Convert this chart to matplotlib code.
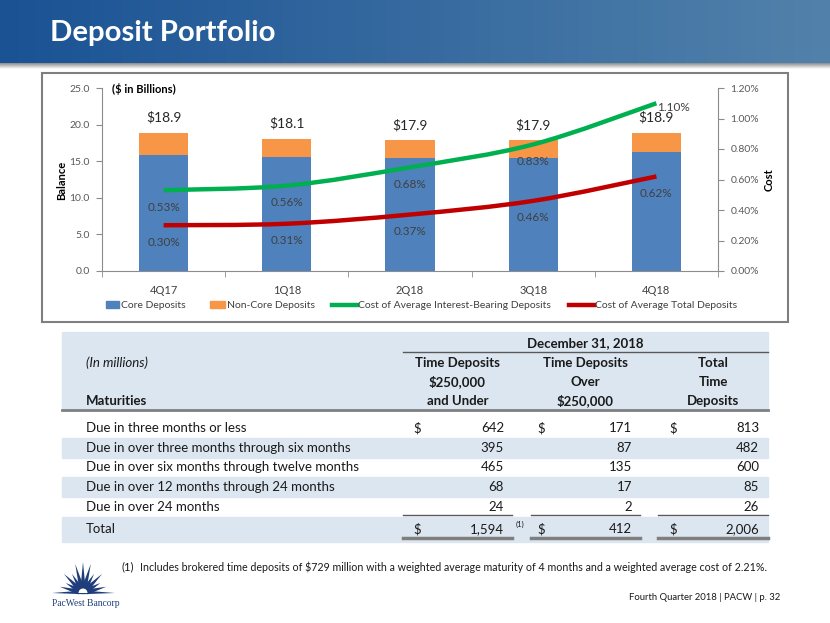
import numpy as np
import matplotlib
matplotlib.use("Agg")
import matplotlib.pyplot as plt
from matplotlib.patches import Rectangle, PathPatch, Polygon, Wedge
from matplotlib.path import Path
from matplotlib.lines import Line2D
from matplotlib.ticker import FuncFormatter, FixedLocator

# ---------------- data ----------------
quarters = ["4Q17", "1Q18", "2Q18", "3Q18", "4Q18"]
core_deposits = [15.9, 15.6, 15.5, 15.5, 16.3]
noncore_deposits = [3.0, 2.5, 2.4, 2.4, 2.6]
total_labels = ["$18.9", "$18.1", "$17.9", "$17.9", "$18.9"]
cost_interest_bearing = [0.53, 0.56, 0.68, 0.83, 1.10]
cost_total = [0.30, 0.31, 0.37, 0.46, 0.62]

maturity_rows = ["Due in three months or less",
                 "Due in over three months through six months",
                 "Due in over six months through twelve months",
                 "Due in over 12 months through 24 months",
                 "Due in over 24 months"]
td_under_250k = [642, 395, 465, 68, 24]
td_over_250k = [171, 87, 135, 17, 2]
td_total = [813, 482, 600, 85, 26]
total_under = 1594
total_over = 412
total_all = 2006

# ---------------- layout helpers ----------------
W, H = 830, 623
FONT = "Lato"
plt.rcParams["font.family"] = [FONT, "DejaVu Sans"]


def fx(x):
    return x / W


def fy(y):
    return 1 - y / H


fig = plt.figure(figsize=(8.3, 6.23), dpi=100)
fig.patch.set_facecolor("white")
renderer = fig.canvas.get_renderer()


def width_of(tobj):
    return tobj.get_window_extent(renderer).width


def fit(tobj, width_px):
    tobj.set_fontsize(tobj.get_fontsize() * width_px / width_of(tobj))
    return tobj.get_fontsize()


# ---------------- header band ----------------
c1 = np.array([0x1a, 0x52, 0x94]) / 255
c2 = np.array([0x52, 0x82, 0xab]) / 255
t = np.linspace(0, 1, 400)
grad = (c1[None, :] * (1 - t[:, None]) + c2[None, :] * t[:, None])[None, :, :]
axh = fig.add_axes([0, fy(63), 1, 63 / H])
axh.imshow(grad, extent=[0, 1, 0, 1], aspect="auto")
axh.set_axis_off()
sh = np.linspace(0.55, 1.0, 30)
shadow = np.dstack([np.repeat(sh[:, None], 10, axis=1)] * 3)
axs = fig.add_axes([0, fy(69), 1, 6 / H])
axs.imshow(shadow, extent=[0, 1, 0, 1], aspect="auto")
axs.set_axis_off()

title = fig.text(fx(50), fy(33), "Deposit Portfolio", color="white",
                 fontweight="bold", fontsize=20, va="center", ha="left")
fit(title, 226)

# ---------------- chart box ----------------
fig.patches.append(Rectangle((fx(42), fy(322)), fx(788) - fx(42), (322 - 73) / H,
                             transform=fig.transFigure, fill=False,
                             ec="#7f7f7f", lw=1.5))

blue = "#4F81BD"
orange = "#F79646"
green = "#00B050"
red = "#C00000"
axis_gray = "#8c8c8c"
tick_txt = "#595959"

ax = fig.add_axes([fx(102), fy(271), 616 / W, 183 / H])
x = np.arange(len(quarters))
ax.bar(x, core_deposits, 0.4, color=blue, zorder=2)
ax.bar(x, noncore_deposits, 0.4, bottom=core_deposits, color=orange, zorder=2)
ax.set_xlim(-0.5, len(quarters) - 0.5)
ax.set_ylim(0, 25)
ax.set_yticks(np.arange(0, 25.1, 5))
ax.yaxis.set_major_formatter(FuncFormatter(lambda v, p: f"{v:.1f}"))
ax.set_xticks(x)
ax.set_xticklabels(quarters)
ax.xaxis.set_minor_locator(FixedLocator(np.arange(-0.5, len(quarters), 1.0)))
ax.tick_params(axis="x", which="major", length=0, labelsize=8, labelcolor="#404040", pad=10)
ax.tick_params(axis="x", which="minor", length=4, color=axis_gray, direction="out")
ax.tick_params(axis="y", length=4, color=axis_gray, labelsize=7.5, labelcolor=tick_txt, pad=5)
for s in ["top", "right"]:
    ax.spines[s].set_visible(False)
for s in ["left", "bottom"]:
    ax.spines[s].set_color(axis_gray)
ax.set_facecolor("none")

for i, (c, n, lbl) in enumerate(zip(core_deposits, noncore_deposits, total_labels)):
    ax.annotate(lbl, (i, c + n), xytext=(0, 15), textcoords="offset pixels",
                ha="center", va="center", fontsize=10, color="#262626")

ax2 = ax.twinx()
ax2.set_ylim(0, 1.2)
ax2.set_yticks(np.arange(0, 1.21, 0.2))
ax2.yaxis.set_major_formatter(FuncFormatter(lambda v, p: f"{v:.2f}%"))
ax2.tick_params(axis="y", length=4, color=axis_gray, labelsize=7.5, labelcolor=tick_txt, pad=5)
for s in ["top", "left", "bottom"]:
    ax2.spines[s].set_visible(False)
ax2.spines["right"].set_color(axis_gray)


def smooth_path(xs, ys):
    pts = np.column_stack([xs, ys]).astype(float)
    P = np.vstack([pts[0], pts, pts[-1]])
    verts = [pts[0]]
    codes = [Path.MOVETO]
    for i in range(1, len(P) - 2):
        p0, p1, p2, p3 = P[i - 1], P[i], P[i + 1], P[i + 2]
        verts += [p1 + (p2 - p0) / 6, p2 - (p3 - p1) / 6, p2]
        codes += [Path.CURVE4] * 3
    return Path(verts, codes)


ax2.add_patch(PathPatch(smooth_path(x, cost_interest_bearing), fill=False,
                        ec=green, lw=3.2, capstyle="butt", zorder=3))
ax2.add_patch(PathPatch(smooth_path(x, cost_total), fill=False,
                        ec=red, lw=3.2, capstyle="butt", zorder=3))

lbl_color = "#404040"
pfs = 8.5
for i, v in enumerate(cost_interest_bearing):
    if i == len(cost_interest_bearing) - 1:
        ax2.annotate(f"{v:.2f}%", (i, v), xytext=(1, -4), textcoords="offset pixels",
                     ha="left", va="center", fontsize=pfs, color=lbl_color)
    else:
        ax2.annotate(f"{v:.2f}%", (i, v), xytext=(0, -17), textcoords="offset pixels",
                     ha="center", va="center", fontsize=pfs, color=lbl_color)
for i, v in enumerate(cost_total):
    ax2.annotate(f"{v:.2f}%", (i, v), xytext=(0, -17), textcoords="offset pixels",
                 ha="center", va="center", fontsize=pfs, color=lbl_color)

fig.text(fx(62), fy(180), "Balance", rotation=90, ha="center", va="center",
         fontsize=8, fontweight="bold", color="black")
fig.text(fx(769), fy(180), "Cost", rotation=90, ha="center", va="center",
         fontsize=8, fontweight="bold", color="black")
fig.text(fx(112), fy(89), "($ in Billions)", ha="left", va="center",
         fontsize=8, fontweight="bold", color="black")

# legend (manual)
ly = 305
leg_items = [("patch", blue, 106, 121, "Core Deposits"),
             ("patch", orange, 210, 227, "Non-Core Deposits"),
             ("line", green, 332, 358, "Cost of Average Interest-Bearing Deposits"),
             ("line", red, 569, 595, "Cost of Average Total Deposits")]
probe = fig.text(0, 0, leg_items[2][4], fontsize=8)
leg_fs = fit(probe, 194)
probe.remove()
for kind, col, x0, tx, label in leg_items:
    if kind == "patch":
        fig.patches.append(Rectangle((fx(x0), fy(ly + 3.5)), fx(tx - 2) - fx(x0), 7 / H,
                                     transform=fig.transFigure, color=col))
    else:
        fig.lines.append(Line2D([fx(x0), fx(tx - 1)], [fy(ly), fy(ly)],
                                transform=fig.transFigure, color=col, lw=3.2))
    fig.text(fx(tx), fy(ly), label, ha="left", va="center", fontsize=leg_fs, color="#404040")

# ---------------- table ----------------
shade = "#dce6f0"
tl, tr = 62, 768


def hrect(y0, y1, x0=tl, x1=tr):
    fig.patches.append(Rectangle((fx(x0), fy(y1)), fx(x1) - fx(x0), (y1 - y0) / H,
                                 transform=fig.transFigure, color=shade, zorder=0))


def hline(y, x0, x1, lw=1.0, color="#595959"):
    fig.lines.append(Line2D([fx(x0), fx(x1)], [fy(y), fy(y)], transform=fig.transFigure,
                            color=color, lw=lw))


probe = fig.text(0, 0, maturity_rows[2], fontsize=9)
tfs = fit(probe, 275)
probe.remove()

hrect(332, 410)
row_y = [428, 448, 467, 487, 507]
row_h = 19.6
for i, yy in enumerate(row_y):
    if i % 2 == 1:
        hrect(yy - row_h / 2, yy + row_h / 2)
total_y = 529
hrect(517, 542)

cols = [(403, 512), (531, 640), (658, 768)]
col_centers = [(a + b) / 2 for a, b in cols]
dollar_x = [413, 537, 669]
value_x = [504, 632, 759]

txt_col = "#1a1a1a"
fig.text(fx(585.5), fy(343), "December 31, 2018", ha="center", va="center",
         fontsize=tfs, fontweight="bold", color=txt_col)
hline(351.5, 403, 768, lw=1.0)
fig.text(fx(86), fy(363), "(In millions)", ha="left", va="center",
         fontsize=tfs, style="italic", color=txt_col)
fig.text(fx(86), fy(401), "Maturities", ha="left", va="center",
         fontsize=tfs, fontweight="bold", color=txt_col)
headers = [["Time Deposits", "$250,000", "and Under"],
           ["Time Deposits", "Over", "$250,000"],
           ["Total", "Time", "Deposits"]]
for cx, lines in zip(col_centers, headers):
    for yy, s in zip([363, 382, 401], lines):
        fig.text(fx(cx), fy(yy), s, ha="center", va="center",
                 fontsize=tfs, fontweight="bold", color=txt_col)
hline(410, tl, tr, lw=2.0, color="#7f7f7f")

for i, (lab, a, b, c) in enumerate(zip(maturity_rows, td_under_250k, td_over_250k, td_total)):
    yy = row_y[i]
    fig.text(fx(86), fy(yy), lab, ha="left", va="center", fontsize=tfs, color=txt_col)
    for vx, v in zip(value_x, [a, b, c]):
        fig.text(fx(vx), fy(yy), f"{v:,}", ha="right", va="center", fontsize=tfs, color=txt_col)
    if i == 0:
        for dx in dollar_x:
            fig.text(fx(dx), fy(yy), "$", ha="left", va="center", fontsize=tfs, color=txt_col)

for a, b in cols:
    hline(515, a, b, lw=1.0, color="#595959")
    hline(538, a, b, lw=2.5, color="#7f7f7f")

fig.text(fx(86), fy(total_y), "Total", ha="left", va="center", fontsize=tfs, color=txt_col)
for dx in dollar_x:
    fig.text(fx(dx), fy(total_y), "$", ha="left", va="center", fontsize=tfs, color=txt_col)
for vx, v in zip(value_x, [total_under, total_over, total_all]):
    fig.text(fx(vx), fy(total_y), f"{v:,}", ha="right", va="center", fontsize=tfs, color=txt_col)
fig.text(fx(520), fy(524), "(1)", ha="center", va="center", fontsize=5.5, color=txt_col)

# ---------------- footnote & footer ----------------
fig.text(fx(121), fy(567), "(1)", ha="left", va="center", fontsize=8, color=txt_col)
foot = fig.text(fx(140), fy(567),
                "Includes brokered time deposits of $729 million with a weighted average maturity "
                "of 4 months and a weighted average cost of 2.21%.",
                ha="left", va="center", fontsize=8, color=txt_col)
footer = fig.text(fx(780), fy(597), "Fourth Quarter 2018 | PACW | p. 32",
                  ha="right", va="center", fontsize=8, color=txt_col)
fit(foot, 626)
fit(footer, 153)

# ---------------- logo ----------------
logo_col = "#1f3d7a"
axl = fig.add_axes([fx(45), fy(615), 85 / W, 57 / H])
axl.set_xlim(45, 130)
axl.set_ylim(615, 558)
axl.set_axis_off()
cx0, cy0 = 83, 593
angles = np.arange(15, 166, 15)
lengths = [24, 20, 27, 22, 30, 31, 30, 22, 27, 20, 24]
for ang, L in zip(angles, lengths):
    a = np.deg2rad(ang)
    d = np.array([np.cos(a), -np.sin(a)])
    nrm = np.array([d[1], -d[0]])
    base = np.array([cx0, cy0]) + d * 4
    tip = np.array([cx0, cy0]) + d * L
    axl.add_patch(Polygon([base + nrm * 2.6, base - nrm * 2.6, tip], closed=True,
                          color=logo_col, lw=0))
axl.add_patch(Polygon([[52, cy0], [cx0, cy0 - 2.5], [115, cy0], [cx0, cy0 + 1.2]],
                      closed=True, color=logo_col, lw=0))
axl.add_patch(Wedge((cx0, cy0), 4.5, 180, 360, color="white", lw=0))
logo_txt = fig.text(fx(52), fy(603), "PacWest Bancorp", ha="left", va="center",
                    fontsize=8, color=logo_col, family=["Liberation Serif", "DejaVu Serif"])
fit(logo_txt, 67)

fig.savefig("out.png", dpi=100)
